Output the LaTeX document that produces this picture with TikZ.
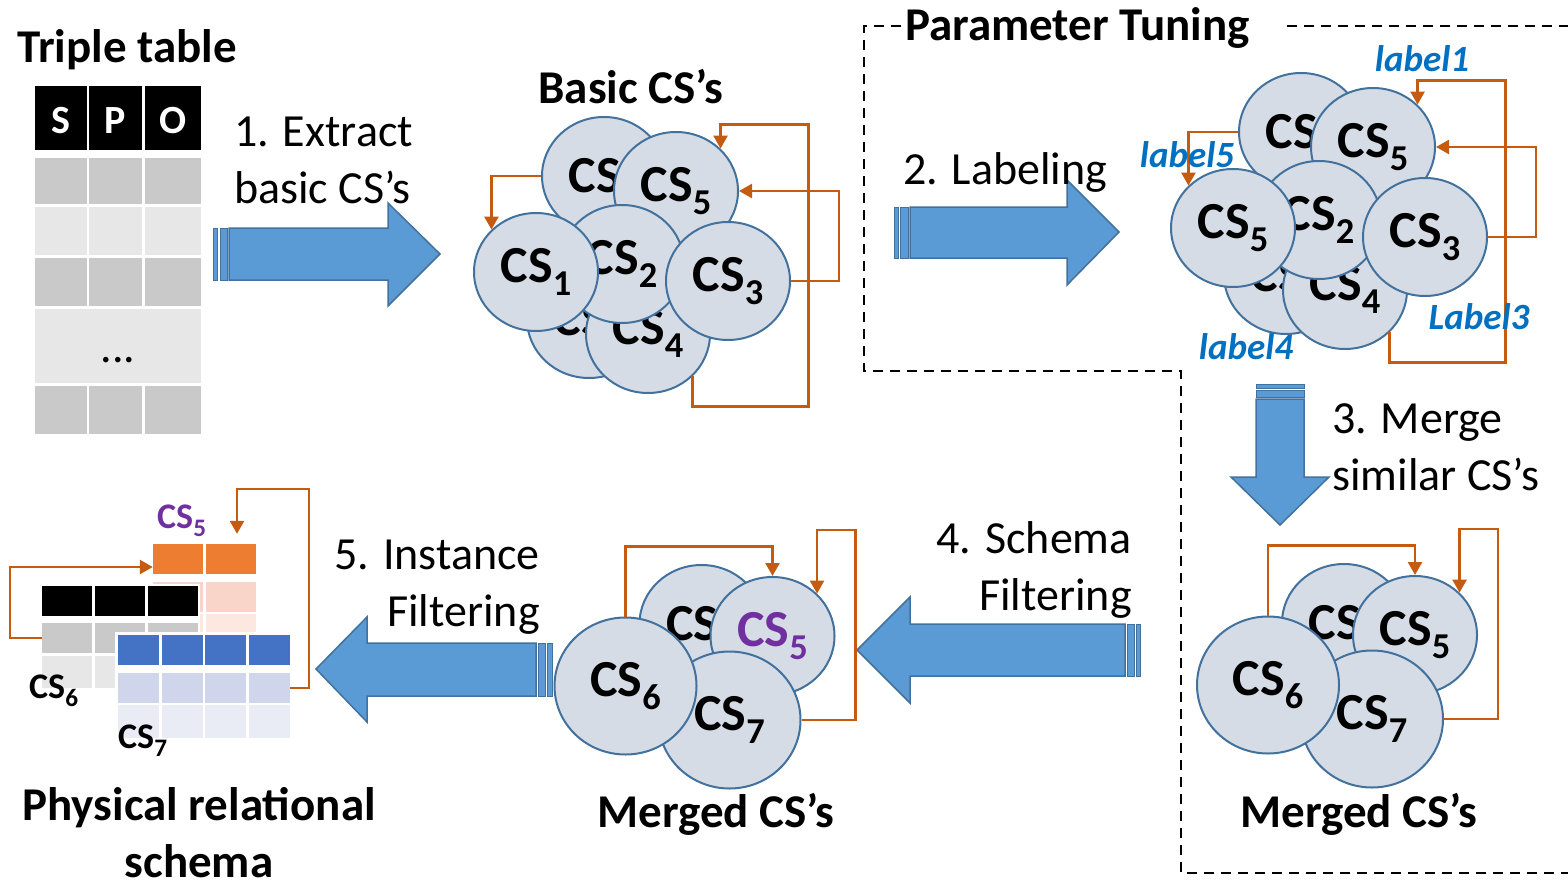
\documentclass[tikz,border=0pt]{standalone}
\usepackage{fontspec}
\setmainfont{Carlito}
\usepackage{graphicx}
\usepackage{tikz}
\usetikzlibrary{arrows.meta,positioning,calc,shapes.geometric}

\definecolor{csfill}{HTML}{D6DCE5}
\definecolor{csline}{HTML}{41719C}
\definecolor{arrfill}{HTML}{5B9BD5}
\definecolor{relcol}{HTML}{C55A11}
\definecolor{lblblue}{HTML}{0070C0}
\definecolor{cspurple}{HTML}{7030A0}
\definecolor{cellgray}{HTML}{C9C9C9}
\definecolor{celllight}{HTML}{E7E7E7}
\definecolor{orghead}{HTML}{ED7D31}
\definecolor{orgrow}{HTML}{F8D5C8}
\definecolor{orgrowb}{HTML}{FCE8E0}
\definecolor{bluhead}{HTML}{4472C4}
\definecolor{blurow}{HTML}{CFD5EA}
\definecolor{blurowb}{HTML}{E9EBF5}

\newcommand{\csn}[1]{CS\raisebox{-0.24em}{\scalebox{0.7}{#1}}}
\newcommand{\csx}{CS\hphantom{\scalebox{0.7}{0}}}

\tikzset{
  >=Triangle,
  cs/.style={ellipse, draw=csline, fill=csfill, line width=2pt, inner sep=0pt,
    minimum width=124pt, minimum height=118pt, font=\fontsize{52}{60}\selectfont\bfseries},
  csbig/.style={cs, minimum width=142pt, minimum height=137pt},
  relarr/.style={-{Triangle[width=14pt,length=13pt]}, draw=relcol, line width=2.5pt},
  bigarr/.style={fill=arrfill, draw=csline, line width=1.5pt},
  steptxt/.style={font=\fontsize{46}{57}\selectfont, inner sep=0pt},
  ttl/.style={font=\fontsize{47}{57}\selectfont\bfseries, inner sep=0pt},
  lbl/.style={font=\fontsize{37}{42}\selectfont\bfseries\itshape, text=lblblue, inner sep=0pt},
  tcs/.style={font=\fontsize{36}{40}\selectfont\bfseries, inner sep=0pt},
  cell/.style={rectangle, inner sep=0pt, minimum width=50pt, minimum height=30pt},
  dashbox/.style={dash pattern=on 10pt off 7pt, line width=2pt}
}

\begin{document}
\begin{tikzpicture}[x=1pt, y=-1pt]
  \useasboundingbox (0,0) rectangle (1568,883);

  % --- Triple table ---
  \node[ttl, anchor=base west] (tt) at (17,63) {Triple table};
  \foreach \xa/\xb/\t in {35/87/S, 89/142/P, 145/201/O} {
    \fill[black] (\xa,86) rectangle (\xb,150);
    \node[font=\fontsize{40}{48}\selectfont\bfseries, text=white, inner sep=0pt] (h\t) at ({(\xa+\xb)/2},121) {\t};
    \foreach \ya/\yb/\c in {158/204/cellgray, 207/255/celllight, 258/306/cellgray, 386/434/cellgray}
      \fill[\c] (\xa,\ya) rectangle (\xb,\yb);
  }
  \fill[celllight] (35,309) rectangle (201,383);
  \node[steptxt, anchor=base] (dots) at (118,362) {...};

  % --- Step 1: extract ---
  \draw[bigarr, line width=1pt] (213,228) rectangle (217,280);
  \draw[bigarr, line width=1pt] (220,228) rectangle (227,280);
  \draw[bigarr] (229,228) -- (388,228) -- (388,203) -- (440,254) -- (388,306) -- (388,280) -- (229,280) -- cycle;
  % base = last line
  \node[steptxt, anchor=base west, align=left] (s1) at (234,203) {1. Extract\\basic CS's};

  % --- Basic CS's ---
  \node[ttl, anchor=base] (basic) at (631,103) {Basic CS's};
  \node[cs] (bA) at (604,176) {\csx};
  \node[cs] (bB) at (589,319) {\csx};
  \node[cs] (b5) at (676,191) {\csn{5}};
  \node[cs] (b4) at (648,334) {\csn{4}};
  \node[cs] (b2) at (622,264) {\csn{2}};
  \node[cs] (b1) at (536,272) {\csn{1}};
  \node[cs] (b3) at (728,281) {\csn{3}};
  \draw[relarr] (bA.west) -| (b1.north west);
  \draw[relarr] (b4.south east) -- ++(0,30) -- ++(116,0) -- ++(0,-282) -| (b5.north east);
  \draw[relarr] (b3.east) -- ++(48,0) |- (b5.east);

  % --- Parameter tuning box ---
  \node[ttl, anchor=base west] (ptune) at (905,41) {Parameter Tuning};
  \draw[dashbox] (901,26) -- (864,26) -- (864,371) -- (1181,371) -- (1181,873) -- (1568,873);
  \draw[dashbox] (1287,26) -- (1568,26);

  % --- Step 2: labeling ---
  \draw[bigarr, line width=1pt] (894,207) rectangle (898,258);
  \draw[bigarr, line width=1pt] (900,207) rectangle (908,258);
  \draw[bigarr] (910,207) -- (1067,207) -- (1067,180) -- (1119,232) -- (1067,285) -- (1067,258) -- (910,258) -- cycle;
  \node[steptxt, anchor=base west] (s2) at (903,184) {2. Labeling};

  % --- Labeled CS's ---
  \begin{scope}[shift={(697,-44)}]
    \node[cs] (lA) at (604,176) {\csx};
    \node[cs] (lB) at (589,319) {\csx};
    \node[cs] (l5) at (676,191) {\csn{5}};
    \node[cs] (l4) at (648,334) {\csn{4}};
    \node[cs] (l2) at (622,264) {\csn{2}};
    \node[cs] (l1) at (536,272) {\csn{5}};
    \node[cs] (l3) at (728,281) {\csn{3}};
    \draw[relarr] (lA.west) -| (l1.north west);
    \draw[relarr] (l4.south east) -- ++(0,30) -- ++(116,0) -- ++(0,-282) -| (l5.north east);
    \draw[relarr] (l3.east) -- ++(48,0) |- (l5.east);
  \end{scope}
  \node[lbl, anchor=base] (lab1) at (1422,71) {label1};
  \node[lbl, anchor=base] (lab5) at (1187,167) {label5};
  \node[lbl, anchor=base] (lab3) at (1479,329) {Label3};
  \node[lbl, anchor=base] (lab4) at (1246,359) {label4};

  % --- Step 3: merge ---
  \draw[bigarr, line width=1pt] (1256,384) rectangle (1304,388);
  \draw[bigarr, line width=1pt] (1256,390) rectangle (1304,397);
  \draw[bigarr] (1256,399) -- (1256,477) -- (1231,477) -- (1280,525) -- (1329,477) -- (1304,477) -- (1304,399) -- cycle;
  \node[steptxt, anchor=base west, align=left] (s3) at (1332,490) {3. Merge\\similar CS's};

  % --- Merged CS's (right) ---
  \node[ttl, anchor=base] (mrgR) at (1359,827) {Merged CS's};
  \node[cs] (rA) at (1344,623) {\csx};
  \node[cs] (r5) at (1415,635) {\csn{5}};
  \node[csbig] (r7) at (1372,719) {\csn{7}};
  \node[csbig] (r6) at (1268,685) {\csn{6}};
  \draw[relarr] (r6.north) -- ++(0,-70) -| (r5.north);
  \draw[relarr] (r7.east) -- ++(54,0) -- ++(0,-190) -| (r5.north east);

  % --- Step 4: schema filtering ---
  \draw[bigarr] (1125,624) -- (910,624) -- (910,597) -- (857,650) -- (910,703) -- (910,676) -- (1125,676) -- cycle;
  \draw[bigarr, line width=1pt] (1127,624) rectangle (1134,676);
  \draw[bigarr, line width=1pt] (1136,624) rectangle (1140,676);
  \node[steptxt, anchor=base east, align=right] (s4) at (1132,610) {4. Schema\\Filtering};

  % --- Merged CS's (middle) ---
  \node[ttl, anchor=base] (mrgM) at (716,827) {Merged CS's};
  \node[cs] (mA) at (701.5,624) {\csx};
  \node[cs, text=cspurple] (m5) at (772.5,636) {\csn{5}};
  \node[csbig] (m7) at (729.5,720) {\csn{7}};
  \node[csbig] (m6) at (625.5,686) {\csn{6}};
  \draw[relarr] (m6.north) -- ++(0,-70) -| (m5.north);
  \draw[relarr] (m7.east) -- ++(54,0) -- ++(0,-190) -| (m5.north east);

  % --- Step 5: instance filtering ---
  \draw[bigarr] (536,643) -- (367,643) -- (367,617) -- (316,669) -- (367,722) -- (367,696) -- (536,696) -- cycle;
  \draw[bigarr, line width=1pt] (538,643) rectangle (545,696);
  \draw[bigarr, line width=1pt] (547,643) rectangle (552,696);
  \node[steptxt, anchor=base east, align=right] (s5) at (540,626) {5. Instance\\Filtering};

  % --- Physical relational schema ---
  % CS5 table
  \foreach \c/\x in {1/178, 2/231} {
    \node[cell, fill=orghead] (o-1-\c) at (\x,559) {};
    \node[cell, fill=orgrow] (o-2-\c) at (\x,597) {};
    \node[cell, fill=orgrowb] (o-3-\c) at (\x,629) {};
  }
  % CS6 table
  \fill[white] (40,584) rectangle (200,690);
  \foreach \c/\x in {1/67, 2/120, 3/172.5} {
    \node[cell, fill=black] (k-1-\c) at (\x,601) {};
    \node[cell, fill=cellgray] (k-2-\c) at (\x,638) {};
    \node[cell, fill=celllight, minimum height=32pt] (k-3-\c) at (\x,672) {};
  }
  % CS7 table
  \fill[white] (115,632) rectangle (293,741);
  \foreach \c/\x in {1/138.5, 2/182.25, 3/225.5, 4/269.5} {
    \node[cell, minimum width=41pt, fill=bluhead] (u-1-\c) at (\x,650) {};
    \node[cell, minimum width=41pt, fill=blurow] (u-2-\c) at (\x,688) {};
    \node[cell, minimum width=41pt, minimum height=33pt, fill=blurowb] (u-3-\c) at (\x,721.5) {};
  }
  \node[tcs, anchor=base west, text=cspurple] (t5) at (157,528) {\csn{5}};
  \node[tcs, anchor=base west] (t6) at (29,698) {\csn{6}};
  \node[tcs, anchor=base west] (t7) at (118,748) {\csn{7}};
  \draw[relarr] (k-2-1.west) -- ++(-32,0) |- ([yshift=-8pt]o-1-1.west);
  \draw[relarr] (u-2-4.east) -- ++(19,0) -- ++(0,-199) -| ([xshift=6pt,yshift=10pt]o-1-2.north);
  \node[ttl, anchor=base, align=center] (phys) at (199,877) {Physical relational\\schema};
\end{tikzpicture}
\end{document}
